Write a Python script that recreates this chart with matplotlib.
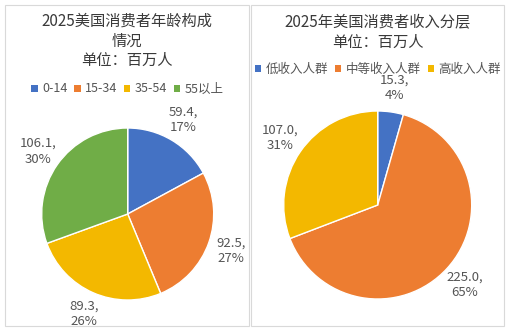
import matplotlib
matplotlib.use("Agg")
import matplotlib.pyplot as plt
from matplotlib.patches import Rectangle, Patch
import numpy as np

plt.rcParams['font.family'] = ['Noto Sans CJK SC', 'DejaVu Sans']

# ---- data ----
age_title = "2025美国消费者年龄构成\n情况\n单位：百万人"
age_labels = ["0-14", "15-34", "35-54", "55以上"]
age_values = [59.4, 92.5, 89.3, 106.1]
age_pct = ["17%", "27%", "26%", "30%"]

inc_title = "2025年美国消费者收入分层\n单位：百万人"
inc_labels = ["低收入人群", "中等收入人群", "高收入人群"]
inc_values = [15.3, 225.0, 107.0]
inc_pct = ["4%", "65%", "31%"]

colors4 = ["#4472C4", "#ED7D31", "#F3B800", "#70AD47"]

W, H = 507, 331
fig = plt.figure(figsize=(W / 100, H / 100), dpi=100)
fig.patch.set_facecolor("white")

TITLE_C = "#3A3A3A"
TEXT_C = "#555555"


def px_axes(cx, cy, r):
    return fig.add_axes([(cx - r) / W, (H - cy - r) / H, 2 * r / W, 2 * r / H])


def draw_pie(ax, values, pcts, cols, lab_r=1.27):
    wedges, _ = ax.pie(values, colors=cols, startangle=90, counterclock=False,
                       radius=1.0, wedgeprops=dict(edgecolor="white", linewidth=1.0))
    ax.set_xlim(-1, 1)
    ax.set_ylim(-1, 1)
    ax.set_aspect("equal")
    ax.axis("off")
    for w, v, p in zip(wedges, values, pcts):
        ang = np.deg2rad((w.theta1 + w.theta2) / 2)
        x, y = lab_r * np.cos(ang), lab_r * np.sin(ang)
        ax.text(x, y, f"{v:.1f},\n{p}", ha="center", va="center",
                fontsize=9.5, color=TEXT_C, linespacing=1.25, clip_on=False)
    return wedges


# panel borders
for x0, x1 in [(5, 249), (251.3, 504)]:
    fig.patches.append(Rectangle((x0 / W, 1 - 325.5 / H), (x1 - x0) / W, (325.5 - 4.5) / H,
                                 transform=fig.transFigure, fill=False,
                                 edgecolor="#D9D9D9", linewidth=0.8))

# left panel
ax1 = px_axes(127.7, 214, 86)
draw_pie(ax1, age_values, age_pct, colors4)
fig.text(127 / W, 1 - 41 / H, age_title, ha="center", va="center", fontsize=11,
         color=TITLE_C, linespacing=1.2)
h1 = [Patch(facecolor=c) for c in colors4]
fig.legend(h1, age_labels, loc="center", bbox_to_anchor=(127.5 / W, 1 - 89 / H),
           ncol=4, frameon=False, fontsize=9, handlelength=0.5, handleheight=0.5,
           handletextpad=0.35, columnspacing=0.55, labelcolor=TEXT_C,
           borderpad=0, borderaxespad=0)

# right panel
ax2 = px_axes(377.7, 205, 94)
draw_pie(ax2, inc_values, inc_pct, colors4[:3], lab_r=1.26)
fig.text(377.5 / W, 1 - 32.3 / H, inc_title, ha="center", va="center", fontsize=11,
         color=TITLE_C, linespacing=1.2)
h2 = [Patch(facecolor=c) for c in colors4[:3]]
fig.legend(h2, inc_labels, loc="center", bbox_to_anchor=(378 / W, 1 - 69.5 / H),
           ncol=3, frameon=False, fontsize=9, handlelength=0.5, handleheight=0.5,
           handletextpad=0.35, columnspacing=0.55, labelcolor=TEXT_C,
           borderpad=0, borderaxespad=0)

fig.savefig("out.png", dpi=100, facecolor="white")
